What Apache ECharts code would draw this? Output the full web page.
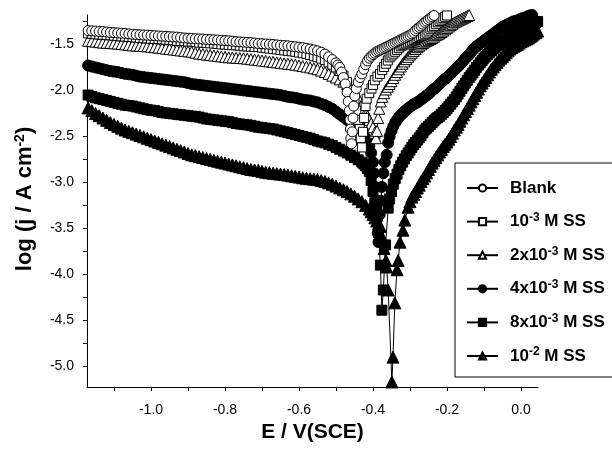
<!DOCTYPE html>
<html>
<head>
<meta charset="utf-8">
<script src="https://cdn.jsdelivr.net/npm/echarts@6/dist/echarts.min.js"></script>
<style>
  html, body { margin: 0; padding: 0; background: #fff; }
  #chart { width: 612px; height: 450px; }
</style>
</head>
<body>
<div id="chart"></div>
<script>
// potential E (V vs SCE), log j (A cm-2)
const blank = [
  [-1.17,-1.35],[-1.16,-1.352],[-1.15,-1.355],[-1.14,-1.358],[-1.13,-1.36],[-1.12,-1.365],[-1.11,-1.37],[-1.10,-1.372],
  [-1.09,-1.375],[-1.08,-1.378],[-1.07,-1.38],[-1.06,-1.385],[-1.05,-1.39],[-1.04,-1.392],[-1.03,-1.395],[-1.02,-1.398],
  [-1.01,-1.40],[-1.00,-1.402],[-0.99,-1.405],[-0.98,-1.408],[-0.97,-1.41],[-0.96,-1.412],[-0.95,-1.415],[-0.94,-1.418],
  [-0.93,-1.42],[-0.92,-1.425],[-0.91,-1.43],[-0.90,-1.432],[-0.89,-1.435],[-0.88,-1.438],[-0.87,-1.44],[-0.86,-1.442],
  [-0.85,-1.445],[-0.84,-1.448],[-0.83,-1.45],[-0.82,-1.452],[-0.81,-1.455],[-0.80,-1.458],[-0.79,-1.46],[-0.78,-1.465],
  [-0.77,-1.47],[-0.76,-1.472],[-0.75,-1.475],[-0.74,-1.478],[-0.73,-1.48],[-0.72,-1.485],[-0.71,-1.49],[-0.70,-1.492],
  [-0.69,-1.495],[-0.68,-1.498],[-0.67,-1.50],[-0.66,-1.505],[-0.65,-1.51],[-0.64,-1.512],[-0.63,-1.515],[-0.62,-1.52],
  [-0.61,-1.525],[-0.60,-1.53],[-0.59,-1.535],[-0.58,-1.542],[-0.57,-1.55],[-0.56,-1.56],[-0.55,-1.57],[-0.54,-1.585],
  [-0.53,-1.605],[-0.52,-1.635],[-0.51,-1.665],[-0.50,-1.70],[-0.495,-1.725],[-0.49,-1.75],[-0.485,-1.80],[-0.48,-1.86],
  [-0.475,-1.93],[-0.47,-2.02],[-0.467,-2.12],[-0.464,-2.22],[-0.462,-2.32],[-0.461,-2.42],[-0.46,-2.52],[-0.458,-2.58],
  [-0.456,-2.45],[-0.454,-2.30],[-0.452,-2.17],[-0.449,-2.06],[-0.445,-1.98],[-0.44,-1.91],[-0.435,-1.86],[-0.43,-1.82],
  [-0.425,-1.77],[-0.42,-1.72],[-0.415,-1.68],[-0.41,-1.65],[-0.405,-1.63],[-0.40,-1.61],[-0.395,-1.595],[-0.39,-1.58],
  [-0.385,-1.57],[-0.38,-1.56],[-0.375,-1.55],[-0.37,-1.54],[-0.365,-1.53],[-0.36,-1.52],[-0.355,-1.51],[-0.35,-1.50],
  [-0.345,-1.49],[-0.34,-1.48],[-0.335,-1.47],[-0.33,-1.46],[-0.325,-1.45],[-0.32,-1.44],[-0.315,-1.43],[-0.31,-1.42],
  [-0.305,-1.41],[-0.30,-1.40],[-0.295,-1.385],[-0.29,-1.37],[-0.285,-1.35],[-0.28,-1.33],[-0.275,-1.315],[-0.27,-1.30],
  [-0.265,-1.28],[-0.26,-1.26],[-0.255,-1.245],[-0.25,-1.23],[-0.245,-1.215],[-0.24,-1.20],[-0.235,-1.185],[-0.23,-1.17]
];
const ss1 = [
  [-1.17,-1.38],[-1.16,-1.385],[-1.15,-1.39],[-1.14,-1.392],[-1.13,-1.395],[-1.12,-1.398],[-1.11,-1.40],[-1.10,-1.405],
  [-1.09,-1.41],[-1.08,-1.412],[-1.07,-1.415],[-1.06,-1.418],[-1.05,-1.42],[-1.04,-1.425],[-1.03,-1.43],[-1.02,-1.432],
  [-1.01,-1.435],[-1.00,-1.438],[-0.99,-1.44],[-0.98,-1.442],[-0.97,-1.445],[-0.96,-1.448],[-0.95,-1.45],[-0.94,-1.455],
  [-0.93,-1.46],[-0.92,-1.462],[-0.91,-1.465],[-0.90,-1.468],[-0.89,-1.47],[-0.88,-1.475],[-0.87,-1.48],[-0.86,-1.482],
  [-0.85,-1.485],[-0.84,-1.488],[-0.83,-1.49],[-0.82,-1.495],[-0.81,-1.50],[-0.80,-1.502],[-0.79,-1.505],[-0.78,-1.508],
  [-0.77,-1.51],[-0.76,-1.515],[-0.75,-1.52],[-0.74,-1.522],[-0.73,-1.525],[-0.72,-1.528],[-0.71,-1.53],[-0.70,-1.535],
  [-0.69,-1.54],[-0.68,-1.545],[-0.67,-1.55],[-0.66,-1.555],[-0.65,-1.56],[-0.64,-1.565],[-0.63,-1.57],[-0.62,-1.575],
  [-0.61,-1.58],[-0.60,-1.588],[-0.59,-1.595],[-0.58,-1.605],[-0.57,-1.615],[-0.56,-1.628],[-0.55,-1.64],[-0.54,-1.655],
  [-0.53,-1.67],[-0.52,-1.695],[-0.51,-1.72],[-0.50,-1.75],[-0.49,-1.79],[-0.48,-1.84],[-0.47,-1.91],[-0.46,-2.00],
  [-0.455,-2.06],[-0.45,-2.12],[-0.445,-2.22],[-0.44,-2.32],[-0.436,-2.42],[-0.433,-2.52],[-0.43,-2.62],
  [-0.427,-2.45],[-0.424,-2.30],[-0.42,-2.17],[-0.417,-2.09],[-0.41,-2.03],[-0.404,-1.98],[-0.40,-1.94],[-0.395,-1.89],
  [-0.388,-1.85],[-0.381,-1.82],[-0.375,-1.78],[-0.37,-1.745],[-0.365,-1.71],[-0.36,-1.675],[-0.355,-1.64],[-0.35,-1.62],
  [-0.345,-1.60],[-0.34,-1.58],[-0.335,-1.56],[-0.33,-1.54],[-0.325,-1.52],[-0.32,-1.51],[-0.315,-1.50],[-0.31,-1.49],
  [-0.305,-1.48],[-0.30,-1.47],[-0.295,-1.46],[-0.29,-1.45],[-0.285,-1.44],[-0.28,-1.43],[-0.275,-1.42],[-0.27,-1.41],
  [-0.265,-1.40],[-0.26,-1.385],[-0.255,-1.37],[-0.25,-1.35],[-0.245,-1.33],[-0.24,-1.315],[-0.235,-1.30],[-0.23,-1.28],
  [-0.225,-1.26],[-0.22,-1.245],[-0.215,-1.23],[-0.21,-1.215],[-0.205,-1.20],[-0.20,-1.185],[-0.195,-1.17],[-0.19,-1.155],
  [-0.185,-1.14]
];
const ss2 = [
  [-1.17,-1.46],[-1.16,-1.465],[-1.15,-1.47],[-1.14,-1.475],[-1.13,-1.48],[-1.12,-1.482],[-1.11,-1.485],[-1.10,-1.488],
  [-1.09,-1.49],[-1.08,-1.495],[-1.07,-1.50],[-1.06,-1.505],[-1.05,-1.51],[-1.04,-1.512],[-1.03,-1.515],[-1.02,-1.518],
  [-1.01,-1.52],[-1.00,-1.525],[-0.99,-1.53],[-0.98,-1.535],[-0.97,-1.54],[-0.96,-1.545],[-0.95,-1.55],[-0.94,-1.555],
  [-0.93,-1.56],[-0.92,-1.565],[-0.91,-1.57],[-0.90,-1.575],[-0.89,-1.58],[-0.88,-1.59],[-0.87,-1.60],[-0.86,-1.605],
  [-0.85,-1.61],[-0.84,-1.615],[-0.83,-1.62],[-0.82,-1.625],[-0.81,-1.63],[-0.80,-1.635],[-0.79,-1.64],[-0.78,-1.642],
  [-0.77,-1.645],[-0.76,-1.648],[-0.75,-1.65],[-0.74,-1.655],[-0.73,-1.66],[-0.72,-1.665],[-0.71,-1.67],[-0.70,-1.675],
  [-0.69,-1.68],[-0.68,-1.685],[-0.67,-1.69],[-0.66,-1.695],[-0.65,-1.70],[-0.64,-1.705],[-0.63,-1.71],[-0.62,-1.715],
  [-0.61,-1.72],[-0.60,-1.728],[-0.59,-1.735],[-0.58,-1.742],[-0.57,-1.75],[-0.56,-1.76],[-0.55,-1.77],[-0.54,-1.785],
  [-0.53,-1.80],[-0.52,-1.82],[-0.51,-1.84],[-0.50,-1.86],[-0.49,-1.88],[-0.48,-1.905],[-0.47,-1.93],[-0.46,-1.97],
  [-0.45,-2.02],[-0.44,-2.08],[-0.43,-2.15],[-0.425,-2.195],[-0.42,-2.24],[-0.415,-2.28],[-0.41,-2.32],[-0.405,-2.36],
  [-0.40,-2.40],[-0.395,-2.46],[-0.392,-2.52],
  [-0.389,-2.44],[-0.386,-2.30],[-0.383,-2.20],[-0.379,-2.12],[-0.375,-2.07],[-0.37,-2.03],[-0.365,-1.99],[-0.36,-1.96],
  [-0.355,-1.93],[-0.35,-1.90],[-0.345,-1.865],[-0.34,-1.83],[-0.335,-1.80],[-0.33,-1.77],[-0.325,-1.74],[-0.32,-1.71],
  [-0.315,-1.685],[-0.31,-1.66],[-0.305,-1.635],[-0.30,-1.61],[-0.295,-1.59],[-0.29,-1.57],[-0.285,-1.55],[-0.28,-1.53],
  [-0.275,-1.515],[-0.27,-1.50],[-0.265,-1.485],[-0.26,-1.47],[-0.255,-1.46],[-0.25,-1.45],[-0.245,-1.44],[-0.24,-1.43],
  [-0.235,-1.415],[-0.23,-1.40],[-0.225,-1.39],[-0.22,-1.38],[-0.215,-1.365],[-0.21,-1.35],[-0.205,-1.335],[-0.20,-1.32],
  [-0.195,-1.305],[-0.19,-1.29],[-0.185,-1.275],[-0.18,-1.26],[-0.175,-1.25],[-0.17,-1.24],[-0.165,-1.23],[-0.16,-1.22],
  [-0.155,-1.21],[-0.15,-1.20],[-0.145,-1.19],[-0.14,-1.18],[-0.135,-1.17],[-0.13,-1.16]
];
const ss4 = [
  [-1.17,-1.73],[-1.16,-1.74],[-1.15,-1.75],[-1.14,-1.76],[-1.13,-1.77],[-1.12,-1.78],[-1.11,-1.79],[-1.10,-1.795],
  [-1.09,-1.80],[-1.08,-1.81],[-1.07,-1.82],[-1.06,-1.825],[-1.05,-1.83],[-1.04,-1.84],[-1.03,-1.85],[-1.02,-1.855],
  [-1.01,-1.86],[-1.00,-1.865],[-0.99,-1.87],[-0.98,-1.875],[-0.97,-1.88],[-0.96,-1.885],[-0.95,-1.89],[-0.94,-1.895],
  [-0.93,-1.90],[-0.92,-1.905],[-0.91,-1.91],[-0.90,-1.92],[-0.89,-1.93],[-0.88,-1.935],[-0.87,-1.94],[-0.86,-1.945],
  [-0.85,-1.95],[-0.84,-1.955],[-0.83,-1.96],[-0.82,-1.965],[-0.81,-1.97],[-0.80,-1.975],[-0.79,-1.98],[-0.78,-1.985],
  [-0.77,-1.99],[-0.76,-1.995],[-0.75,-2.00],[-0.74,-2.005],[-0.73,-2.01],[-0.72,-2.015],[-0.71,-2.02],[-0.70,-2.025],
  [-0.69,-2.03],[-0.68,-2.035],[-0.67,-2.04],[-0.66,-2.045],[-0.65,-2.05],[-0.64,-2.06],[-0.63,-2.07],[-0.62,-2.075],
  [-0.61,-2.08],[-0.60,-2.09],[-0.59,-2.10],[-0.58,-2.105],[-0.57,-2.11],[-0.56,-2.12],[-0.55,-2.13],[-0.54,-2.145],
  [-0.53,-2.16],[-0.52,-2.18],[-0.51,-2.20],[-0.50,-2.23],[-0.49,-2.26],[-0.48,-2.29],[-0.47,-2.32],[-0.46,-2.35],
  [-0.45,-2.38],[-0.44,-2.42],[-0.43,-2.46],[-0.425,-2.49],[-0.42,-2.52],[-0.415,-2.56],[-0.41,-2.60],[-0.405,-2.68],
  [-0.40,-2.78],[-0.397,-2.90],[-0.394,-3.05],[-0.391,-3.22],[-0.389,-3.40],[-0.387,-3.55],[-0.385,-3.65],
  [-0.382,-3.35],[-0.379,-3.20],[-0.376,-3.05],[-0.372,-2.90],[-0.368,-2.78],[-0.363,-2.70],[-0.359,-2.57],[-0.355,-2.50],
  [-0.35,-2.44],[-0.345,-2.39],[-0.34,-2.35],[-0.335,-2.32],[-0.33,-2.29],[-0.325,-2.27],[-0.32,-2.25],[-0.315,-2.23],
  [-0.31,-2.21],[-0.305,-2.195],[-0.30,-2.18],[-0.295,-2.165],[-0.29,-2.15],[-0.285,-2.14],[-0.28,-2.13],[-0.275,-2.115],
  [-0.27,-2.10],[-0.265,-2.085],[-0.26,-2.07],[-0.255,-2.055],[-0.25,-2.04],[-0.245,-2.02],[-0.24,-2.00],[-0.235,-1.985],
  [-0.23,-1.97],[-0.225,-1.95],[-0.22,-1.93],[-0.215,-1.91],[-0.21,-1.89],[-0.205,-1.875],[-0.20,-1.86],[-0.195,-1.84],
  [-0.19,-1.82],[-0.185,-1.80],[-0.18,-1.78],[-0.175,-1.76],[-0.17,-1.74],[-0.165,-1.72],[-0.16,-1.70],[-0.155,-1.675],
  [-0.15,-1.65],[-0.145,-1.63],[-0.14,-1.61],[-0.135,-1.585],[-0.13,-1.56],[-0.125,-1.54],[-0.12,-1.52],[-0.115,-1.505],
  [-0.11,-1.49],[-0.105,-1.475],[-0.10,-1.46],[-0.095,-1.445],[-0.09,-1.43],[-0.085,-1.415],[-0.08,-1.40],[-0.075,-1.385],
  [-0.07,-1.37],[-0.065,-1.355],[-0.06,-1.34],[-0.055,-1.325],[-0.05,-1.31],[-0.045,-1.30],[-0.04,-1.29],[-0.035,-1.28],
  [-0.03,-1.27],[-0.025,-1.26],[-0.02,-1.25],[-0.015,-1.245],[-0.01,-1.24],[-0.005,-1.23],[0.00,-1.22],[0.005,-1.215],
  [0.01,-1.21],[0.015,-1.20],[0.02,-1.19],[0.025,-1.185],[0.03,-1.18]
];
const ss8 = [
  [-1.17,-2.05],[-1.16,-2.065],[-1.15,-2.08],[-1.14,-2.09],[-1.13,-2.10],[-1.12,-2.11],[-1.11,-2.12],[-1.10,-2.13],
  [-1.09,-2.14],[-1.08,-2.15],[-1.07,-2.16],[-1.06,-2.165],[-1.05,-2.17],[-1.04,-2.18],[-1.03,-2.19],[-1.02,-2.20],
  [-1.01,-2.21],[-1.00,-2.215],[-0.99,-2.22],[-0.98,-2.23],[-0.97,-2.24],[-0.96,-2.245],[-0.95,-2.25],[-0.94,-2.255],
  [-0.93,-2.26],[-0.92,-2.265],[-0.91,-2.27],[-0.90,-2.275],[-0.89,-2.28],[-0.88,-2.285],[-0.87,-2.29],[-0.86,-2.30],
  [-0.85,-2.31],[-0.84,-2.315],[-0.83,-2.32],[-0.82,-2.325],[-0.81,-2.33],[-0.80,-2.335],[-0.79,-2.34],[-0.78,-2.35],
  [-0.77,-2.36],[-0.76,-2.365],[-0.75,-2.37],[-0.74,-2.375],[-0.73,-2.38],[-0.72,-2.39],[-0.71,-2.40],[-0.70,-2.405],
  [-0.69,-2.41],[-0.68,-2.415],[-0.67,-2.42],[-0.66,-2.43],[-0.65,-2.44],[-0.64,-2.45],[-0.63,-2.46],[-0.62,-2.47],
  [-0.61,-2.48],[-0.60,-2.49],[-0.59,-2.50],[-0.58,-2.51],[-0.57,-2.52],[-0.56,-2.535],[-0.55,-2.55],[-0.54,-2.56],
  [-0.53,-2.57],[-0.52,-2.585],[-0.51,-2.60],[-0.50,-2.62],[-0.49,-2.64],[-0.48,-2.66],[-0.47,-2.68],[-0.46,-2.705],
  [-0.45,-2.73],[-0.44,-2.755],[-0.43,-2.78],[-0.425,-2.80],[-0.42,-2.82],[-0.415,-2.85],[-0.41,-2.88],[-0.405,-2.98],
  [-0.40,-3.10],[-0.395,-3.22],[-0.39,-3.32],[-0.385,-3.55],[-0.38,-3.90],[-0.376,-4.39],
  [-0.372,-4.17],[-0.366,-3.68],[-0.359,-3.28],[-0.355,-3.18],[-0.35,-3.10],[-0.345,-3.02],[-0.34,-2.96],[-0.335,-2.91],
  [-0.33,-2.86],[-0.325,-2.82],[-0.32,-2.78],[-0.315,-2.745],[-0.31,-2.71],[-0.305,-2.68],[-0.30,-2.65],[-0.295,-2.62],
  [-0.29,-2.59],[-0.285,-2.565],[-0.28,-2.54],[-0.275,-2.515],[-0.27,-2.49],[-0.265,-2.46],[-0.26,-2.43],[-0.255,-2.41],
  [-0.25,-2.39],[-0.245,-2.37],[-0.24,-2.35],[-0.235,-2.33],[-0.23,-2.31],[-0.225,-2.295],[-0.22,-2.28],[-0.215,-2.26],
  [-0.21,-2.24],[-0.205,-2.22],[-0.20,-2.20],[-0.195,-2.175],[-0.19,-2.15],[-0.185,-2.125],[-0.18,-2.10],[-0.175,-2.07],
  [-0.17,-2.04],[-0.165,-2.01],[-0.16,-1.98],[-0.155,-1.95],[-0.15,-1.92],[-0.145,-1.89],[-0.14,-1.86],[-0.135,-1.835],
  [-0.13,-1.81],[-0.125,-1.78],[-0.12,-1.75],[-0.115,-1.725],[-0.11,-1.70],[-0.105,-1.675],[-0.10,-1.65],[-0.095,-1.63],
  [-0.09,-1.61],[-0.085,-1.59],[-0.08,-1.57],[-0.075,-1.55],[-0.07,-1.53],[-0.065,-1.515],[-0.06,-1.50],[-0.055,-1.485],
  [-0.05,-1.47],[-0.045,-1.46],[-0.04,-1.45],[-0.035,-1.435],[-0.03,-1.42],[-0.025,-1.405],[-0.02,-1.39],[-0.015,-1.375],
  [-0.01,-1.36],[-0.005,-1.35],[0.00,-1.34],[0.005,-1.33],[0.01,-1.32],[0.015,-1.31],[0.02,-1.30],[0.025,-1.29],
  [0.03,-1.28],[0.035,-1.27],[0.04,-1.26],[0.045,-1.25],[0.05,-1.24]
];
const ss10 = [
  [-1.17,-2.19],[-1.16,-2.22],[-1.15,-2.25],[-1.14,-2.275],[-1.13,-2.30],[-1.12,-2.325],[-1.11,-2.35],[-1.10,-2.37],
  [-1.09,-2.39],[-1.08,-2.41],[-1.07,-2.43],[-1.06,-2.445],[-1.05,-2.46],[-1.04,-2.475],[-1.03,-2.49],[-1.02,-2.505],
  [-1.01,-2.52],[-1.00,-2.535],[-0.99,-2.55],[-0.98,-2.565],[-0.97,-2.58],[-0.96,-2.595],[-0.95,-2.61],[-0.94,-2.625],
  [-0.93,-2.64],[-0.92,-2.655],[-0.91,-2.67],[-0.90,-2.685],[-0.89,-2.70],[-0.88,-2.71],[-0.87,-2.72],[-0.86,-2.73],
  [-0.85,-2.74],[-0.84,-2.75],[-0.83,-2.76],[-0.82,-2.77],[-0.81,-2.78],[-0.80,-2.79],[-0.79,-2.80],[-0.78,-2.81],
  [-0.77,-2.82],[-0.76,-2.83],[-0.75,-2.84],[-0.74,-2.85],[-0.73,-2.86],[-0.72,-2.865],[-0.71,-2.87],[-0.70,-2.88],
  [-0.69,-2.89],[-0.68,-2.895],[-0.67,-2.90],[-0.66,-2.905],[-0.65,-2.91],[-0.64,-2.915],[-0.63,-2.92],[-0.62,-2.928],
  [-0.61,-2.935],[-0.60,-2.942],[-0.59,-2.95],[-0.58,-2.955],[-0.57,-2.96],[-0.56,-2.965],[-0.55,-2.97],[-0.54,-2.98],
  [-0.53,-2.99],[-0.52,-3.005],[-0.51,-3.02],[-0.50,-3.04],[-0.49,-3.06],[-0.48,-3.08],[-0.47,-3.10],[-0.46,-3.125],
  [-0.45,-3.15],[-0.44,-3.18],[-0.43,-3.21],[-0.42,-3.25],[-0.41,-3.29],[-0.405,-3.32],[-0.40,-3.35],[-0.395,-3.385],
  [-0.39,-3.42],[-0.385,-3.45],[-0.38,-3.48],[-0.375,-3.60],[-0.37,-3.72],[-0.365,-3.85],[-0.363,-3.92],[-0.359,-4.17],
  [-0.349,-5.17],
  [-0.346,-4.90],[-0.341,-4.31],[-0.335,-3.95],[-0.332,-3.85],[-0.327,-3.65],[-0.319,-3.52],[-0.314,-3.41],[-0.305,-3.27],
  [-0.30,-3.21],[-0.295,-3.16],[-0.29,-3.13],[-0.285,-3.10],[-0.28,-3.06],[-0.275,-3.03],[-0.27,-2.99],[-0.265,-2.96],
  [-0.26,-2.93],[-0.255,-2.895],[-0.25,-2.86],[-0.245,-2.825],[-0.24,-2.79],[-0.235,-2.76],[-0.23,-2.73],[-0.225,-2.70],
  [-0.22,-2.67],[-0.215,-2.64],[-0.21,-2.61],[-0.205,-2.585],[-0.20,-2.56],[-0.195,-2.53],[-0.19,-2.50],[-0.185,-2.465],
  [-0.18,-2.43],[-0.175,-2.40],[-0.17,-2.37],[-0.165,-2.335],[-0.16,-2.30],[-0.155,-2.265],[-0.15,-2.23],[-0.145,-2.195],
  [-0.14,-2.16],[-0.135,-2.125],[-0.13,-2.09],[-0.125,-2.055],[-0.12,-2.02],[-0.115,-1.985],[-0.11,-1.95],[-0.105,-1.92],
  [-0.10,-1.89],[-0.095,-1.86],[-0.09,-1.83],[-0.085,-1.80],[-0.08,-1.77],[-0.075,-1.745],[-0.07,-1.72],[-0.065,-1.695],
  [-0.06,-1.67],[-0.055,-1.65],[-0.05,-1.63],[-0.045,-1.61],[-0.04,-1.59],[-0.035,-1.57],[-0.03,-1.55],[-0.025,-1.535],
  [-0.02,-1.52],[-0.015,-1.51],[-0.01,-1.50],[-0.005,-1.485],[0.00,-1.47],[0.005,-1.46],[0.01,-1.45],[0.015,-1.44],
  [0.02,-1.43],[0.025,-1.415],[0.03,-1.40],[0.035,-1.385],[0.04,-1.37],[0.045,-1.355],[0.05,-1.34]
];

const seriesNames = ['Blank', '10-3 M SS', '2x10-3 M SS', '4x10-3 M SS', '8x10-3 M SS', '10-2 M SS'];
const legendText = {
  'Blank': 'Blank',
  '10-3 M SS': '10{sup|-3} M SS',
  '2x10-3 M SS': '2x10{sup|-3} M SS',
  '4x10-3 M SS': '4x10{sup|-3} M SS',
  '8x10-3 M SS': '8x10{sup|-3} M SS',
  '10-2 M SS': '10{sup|-2} M SS'
};
const xLabelValues = [-1.0, -0.8, -0.6, -0.4, -0.2, 0.0];
const xTickValues = [-1.1, -1.0, -0.9, -0.8, -0.7, -0.6, -0.5, -0.4, -0.3, -0.2, -0.1, 0.0];
const yLabelValues = [-5.0, -4.5, -4.0, -3.5, -3.0, -2.5, -2.0, -1.5];
const yTickValues = [-5.0, -4.75, -4.5, -4.25, -4.0, -3.75, -3.5, -3.25, -3.0, -2.75, -2.5, -2.25, -2.0, -1.75, -1.5, -1.25];

const FONT = '"Liberation Sans", Arial, Helvetica, sans-serif';

function makeSeries(name, data, symbol, size, fill, z) {
  return {
    name: name,
    type: 'line',
    data: data,
    symbol: symbol,
    symbolSize: size,
    showSymbol: true,
    showAllSymbol: true,
    clip: true,
    z: z,
    itemStyle: { color: fill, borderColor: '#000', borderWidth: 1 },
    lineStyle: { color: '#000', width: 1 },
    emphasis: { disabled: true }
  };
}

const chart = echarts.init(document.getElementById('chart'), null, { renderer: 'canvas' });
chart.setOption({
  animation: false,
  backgroundColor: '#fff',
  textStyle: { fontFamily: FONT, color: '#000' },
  grid: { left: 87, right: 74, top: 15, bottom: 63 },
  legend: {
    orient: 'vertical',
    left: 455,
    top: 163,
    padding: [15, 80, 11, 11],
    borderColor: '#000',
    borderWidth: 1,
    itemWidth: 31,
    itemHeight: 9,
    itemGap: 13.6,
    selectedMode: false,
    data: seriesNames,
    formatter: function (name) { return legendText[name]; },
    textStyle: {
      fontFamily: FONT,
      fontSize: 17,
      fontWeight: 'bold',
      color: '#000',
      lineHeight: 20,
      padding: [0, 0, 0, 7],
      rich: {
        sup: { fontFamily: FONT, fontSize: 12, fontWeight: 'bold', color: '#000', lineHeight: 20, padding: [0, 0, 8, 0] }
      }
    }
  },
  xAxis: {
    type: 'value',
    min: -1.173,
    max: 0.046,
    name: 'E / V(SCE)',
    nameLocation: 'middle',
    nameGap: 33,
    nameTextStyle: { fontFamily: FONT, fontSize: 21, fontWeight: 'bold', color: '#000' },
    axisLine: { show: true, onZero: false, lineStyle: { color: '#000', width: 1 } },
    axisTick: { show: true, inside: false, length: 4, customValues: xTickValues, lineStyle: { color: '#000' } },
    axisLabel: {
      customValues: xLabelValues,
      fontFamily: FONT, fontSize: 14, color: '#000', margin: 16,
      formatter: function (v) { return v.toFixed(1); }
    },
    splitLine: { show: false }
  },
  yAxis: {
    type: 'value',
    min: -5.225,
    max: -1.18,
    name: 'log (j / A cm{sup|-2})',
    nameLocation: 'middle',
    nameRotate: 90,
    nameGap: 50,
    nameTextStyle: {
      fontFamily: FONT, fontSize: 22, fontWeight: 'bold', color: '#000',
      padding: [0, 0, 0, 4],
      rich: { sup: { fontFamily: FONT, fontSize: 14, fontWeight: 'bold', color: '#000', padding: [0, 0, 10, 0] } }
    },
    axisLine: { show: true, onZero: false, lineStyle: { color: '#000', width: 1 } },
    axisTick: { show: true, inside: false, length: 4, customValues: yTickValues, lineStyle: { color: '#000' } },
    axisLabel: {
      customValues: yLabelValues,
      fontFamily: FONT, fontSize: 14, color: '#000', margin: 13,
      formatter: function (v) { return v.toFixed(1); }
    },
    splitLine: { show: false }
  },
  series: [
    makeSeries(seriesNames[0], blank, 'circle', 10, '#fff', 8),
    makeSeries(seriesNames[1], ss1, 'rect', 9, '#fff', 7),
    makeSeries(seriesNames[2], ss2, 'triangle', 11, '#fff', 6),
    makeSeries(seriesNames[3], ss4, 'circle', 11, '#000', 5),
    makeSeries(seriesNames[4], ss8, 'rect', 10, '#000', 4),
    makeSeries(seriesNames[5], ss10, 'triangle', 12, '#000', 3)
  ]
});
</script>
</body>
</html>
